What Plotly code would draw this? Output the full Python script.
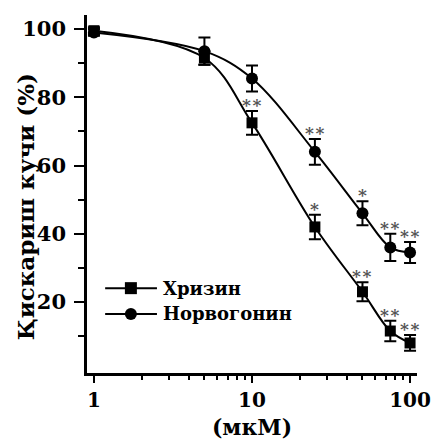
import math
import plotly.graph_objects as go

# concentration (мкМ) and contraction strength (%)
conc = [1, 5, 10, 25, 50, 75, 100]

chrysin = [99.5, 91.5, 72.5, 42.0, 23.0, 11.5, 8.0]
chrysin_err = [1.0, 2.0, 3.5, 3.6, 2.8, 3.0, 2.3]
chrysin_sig = ["", "", "**", "*", "**", "**", "**"]

norwogonin = [99.0, 93.5, 85.5, 64.0, 46.0, 36.0, 34.5]
norwogonin_err = [1.0, 4.0, 3.8, 3.8, 3.5, 4.0, 3.1]
norwogonin_sig = ["", "", "", "**", "*", "**", "**"]

series_names = ["Хризин", "Норвогонин"]

x_ticks = [1, 10, 100]
x_minor = [2, 3, 4, 5, 6, 7, 8, 9, 20, 30, 40, 50, 60, 70, 80, 90]
y_ticks = [20, 40, 60, 80, 100]
y_minor = [10, 30, 50, 70, 90]

FONT = "DejaVu Serif"

fig = go.Figure()


def add_series(name, y, err, symbol, size):
    fig.add_trace(go.Scatter(
        x=conc, y=y, name=name,
        mode="lines+markers",
        line=dict(color="black", width=2, shape="spline", smoothing=1.0),
        marker=dict(symbol=symbol, size=size, color="black"),
        error_y=dict(type="data", array=err, visible=True,
                     color="black", thickness=2, width=6),
        showlegend=False,
    ))


add_series(series_names[0], chrysin, chrysin_err, "square", 11)
add_series(series_names[1], norwogonin, norwogonin_err, "circle", 12)

# significance marks above the error bars (annotation x is log10 on a log axis)
for ys, errs, sigs in ((chrysin, chrysin_err, chrysin_sig),
                       (norwogonin, norwogonin_err, norwogonin_sig)):
    for xv, yv, ev, s in zip(conc, ys, errs, sigs):
        if not s:
            continue
        fig.add_annotation(
            x=math.log10(xv), y=yv + ev, xref="x", yref="y",
            text="\u200a".join(s), showarrow=False,
            yanchor="middle", yshift=6,
            font=dict(family=FONT, size=17, color="#555555"),
        )

# legend drawn inside the plot: line sample, marker, label
legend_rows = [(0.237, "rect"), (0.165, "circle")]
for (ly, kind), name in zip(legend_rows, series_names):
    fig.add_shape(type="line", xref="paper", yref="paper",
                  x0=0.055, x1=0.212, y0=ly, y1=ly,
                  line=dict(color="black", width=2))
    fig.add_shape(type=kind, xref="paper", yref="paper",
                  xsizemode="pixel", ysizemode="pixel",
                  xanchor=0.133, yanchor=ly,
                  x0=-6, x1=6, y0=-6, y1=6,
                  fillcolor="black", line=dict(color="black", width=0))
    fig.add_annotation(x=0.225, y=ly, xref="paper", yref="paper",
                       text=name, showarrow=False,
                       xanchor="left", yanchor="middle",
                       font=dict(family=FONT, size=18, weight="bold"))

# vertical axis title
fig.add_annotation(x=-0.188, y=0.466, xref="paper", yref="paper",
                   text="Қискариш кучи (%)", showarrow=False, textangle=-90,
                   xanchor="center", yanchor="middle",
                   font=dict(family=FONT, size=23, weight="bold"))

fig.update_layout(
    width=433, height=441,
    margin=dict(l=87, r=16, t=15, b=68),
    paper_bgcolor="white", plot_bgcolor="white",
    font=dict(family=FONT, color="black", size=21, weight="bold"),
    showlegend=False,
)

fig.update_xaxes(
    type="log", range=[-0.044, 2.044], automargin=False,
    tickmode="array", tickvals=x_ticks, ticktext=[str(v) for v in x_ticks],
    ticks="outside", ticklen=7, tickwidth=2, tickcolor="black",
    minor=dict(tickmode="array", tickvals=x_minor, ticks="outside",
               ticklen=4, tickwidth=2, tickcolor="black", showgrid=False),
    showline=True, linecolor="black", linewidth=2.5,
    showgrid=False, zeroline=False,
    tickfont=dict(family=FONT, size=20, weight="bold"),
    title=dict(text="(мкМ)", standoff=9,
               font=dict(family=FONT, size=22, weight="bold")),
)

fig.update_yaxes(
    range=[-0.8, 104.1], automargin=False,
    tickmode="array", tickvals=y_ticks, ticklabelstandoff=4,
    ticks="outside", ticklen=10, tickwidth=2, tickcolor="black",
    minor=dict(tickmode="array", tickvals=y_minor, ticks="outside",
               ticklen=6, tickwidth=2, tickcolor="black", showgrid=False),
    showline=True, linecolor="black", linewidth=2.5,
    showgrid=False, zeroline=False,
    tickfont=dict(family=FONT, size=21, weight="bold"),
)

fig.write_html("out.html")
